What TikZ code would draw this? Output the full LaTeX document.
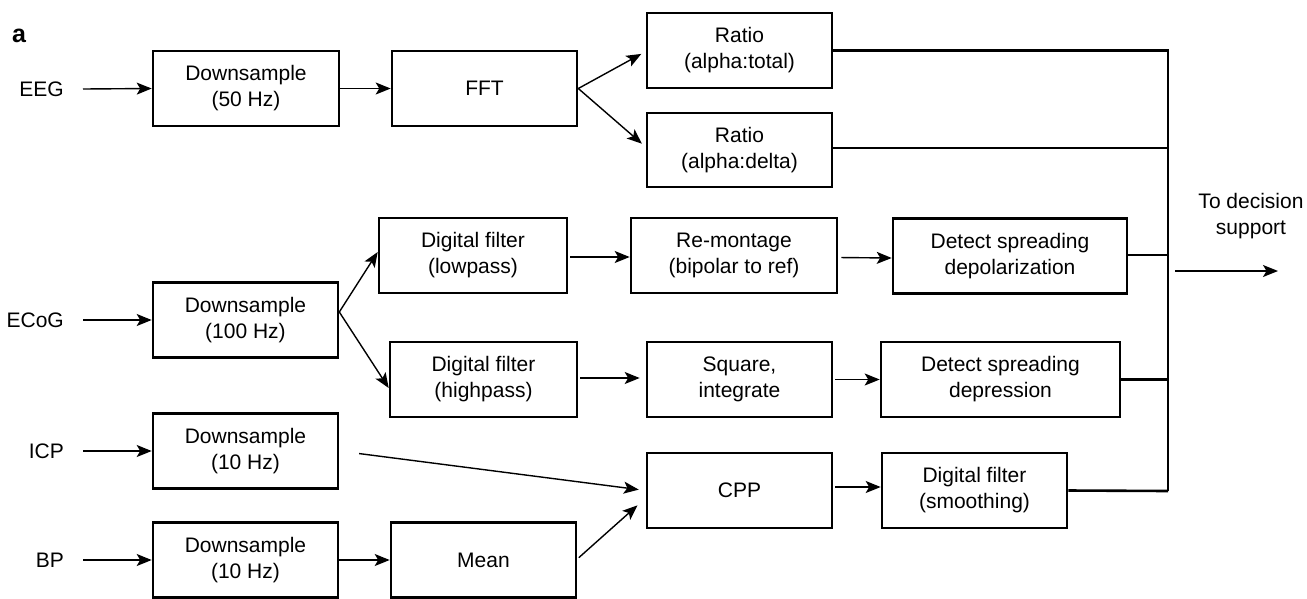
\documentclass[tikz,border=0pt]{standalone}
\usepackage{fontspec}
\setmainfont{Liberation Sans}
\usetikzlibrary{arrows.meta}
\begin{document}
\begin{tikzpicture}[x=1pt,y=-1pt,
  box/.style={draw, line width=2.6pt, minimum width=185pt, minimum height=75pt, align=center, inner sep=0pt, font=\fontsize{21}{26}\selectfont},
  lbl/.style={font=\fontsize{21}{26}\selectfont, inner sep=0pt, align=center},
  arr/.style={line width=1.4pt, -{Stealth[length=15pt,width=12pt,inset=3.5pt]}},
  bus/.style={line width=2.6pt}]
\useasboundingbox (0,0) rectangle (1307,598);

% panel letter
\node[inner sep=0pt, font=\fontsize{25}{28}\selectfont\bfseries] (letter) at (19,36) {a};

% input labels
\node[lbl, anchor=east] (eeg)  at (64,89)  {EEG};
\node[lbl, anchor=east] (ecog) at (64,320) {ECoG};
\node[lbl, anchor=east] (icp)  at (64,451) {ICP};
\node[lbl, anchor=east] (bp)   at (64,560) {BP};

% boxes
\node[box, minimum width=186pt] (ds50) at (246,88.5) {Downsample\\(50 Hz)};
\node[box] (fft) at (484.5,88.5) {FFT};
\node[box] (rt) at (739.5,50.5) {Ratio\\(alpha:total)};
\node[box, minimum height=74pt] (rd) at (739.5,150) {Ratio\\(alpha:delta)};

\node[box] (ds100) at (245.5,320) {Downsample\\(100 Hz)};
\node[box, minimum width=188pt] (lp) at (473,255.5) {Digital filter\\(lowpass)};
\node[box, minimum width=206pt] (rm) at (734,255.5) {Re-montage\\(bipolar to ref)};
\node[box, minimum width=234pt] (depol) at (1010,256) {Detect spreading\\depolarization};
\node[box, minimum width=187pt] (hp) at (483.5,379.5) {Digital filter\\(highpass)};
\node[box] (sq) at (739.5,379.5) {Square,\\integrate};
\node[box, minimum width=239pt] (depr) at (1000.5,379.5) {Detect spreading\\depression};

\node[box] (ds10a) at (245.5,451) {Downsample\\(10 Hz)};
\node[box] (cpp) at (739.5,490.5) {CPP};
\node[box] (sm) at (974.5,490.5) {Digital filter\\(smoothing)};

\node[box] (ds10b) at (245.5,560) {Downsample\\(10 Hz)};
\node[box] (mean) at (483.5,560) {Mean};

% output
\coordinate (busbot) at (1168,491);
\coordinate (outs) at (1175,271);
\coordinate (oute) at (1278,271);
\node[lbl] (out) at (1251,216) {To decision\\support};

% input arrows
\draw[arr] ([xshift=19pt]eeg.east) -- (ds50.west);
\draw[arr] ([xshift=19pt]ecog.east) -- (ds100.west);
\draw[arr] ([xshift=19pt]icp.east) -- (ds10a.west);
\draw[arr] ([xshift=19pt]bp.east) -- (ds10b.west);

% EEG chain
\draw[arr] (ds50.east) -- (fft.west);
\draw[arr, shorten >=5pt] (fft.east) -- ([yshift=-1pt]rt.west);
\draw[arr, shorten >=5pt] (fft.east) -- ([yshift=3pt]rd.west);

% ECoG chain
\draw[arr] ([yshift=8pt]ds100.east) -- ([yshift=3.5pt]lp.west);
\draw[arr] ([yshift=8pt]ds100.east) -- ([yshift=-8.5pt]hp.west);
\draw[arr, shorten <=2pt] ([yshift=-1.5pt]lp.east) -- ([yshift=-1.5pt]rm.west);
\draw[arr, shorten <=3pt] ([yshift=-2pt]rm.east) -- ([yshift=-2pt]depol.west);
\draw[arr, shorten <=2pt, shorten >=6pt] ([yshift=1.5pt]hp.east) -- ([yshift=1.5pt]sq.west);
\draw[arr, shorten <=2pt] (sq.east) -- (depr.west);

% ICP / BP chain
\draw[arr, shorten <=20pt, shorten >=7pt] (ds10a.east) -- (cpp.west);
\draw[arr] (ds10b.east) -- (mean.west);
\draw[arr, shorten <=2pt, shorten >=11pt] ([yshift=1pt]mean.east) -- ([yshift=-7.5pt]cpp.west);
\draw[arr, shorten <=2pt] ([yshift=3.5pt]cpp.east) -- ([yshift=3.5pt]sm.west);

% bus
\draw[bus] (rt.east) -| (busbot);
\draw[bus] ([yshift=2pt]rd.east) -- ([yshift=2pt]rd.east -| busbot);
\draw[bus] ([yshift=1pt]depol.east) -- ([yshift=1pt]depol.east -| busbot);
\draw[bus] (depr.east) -- (depr.east -| busbot);
\draw[bus] (sm.east) -- (busbot);
\draw[arr] (outs) -- (oute);
\end{tikzpicture}
\end{document}
